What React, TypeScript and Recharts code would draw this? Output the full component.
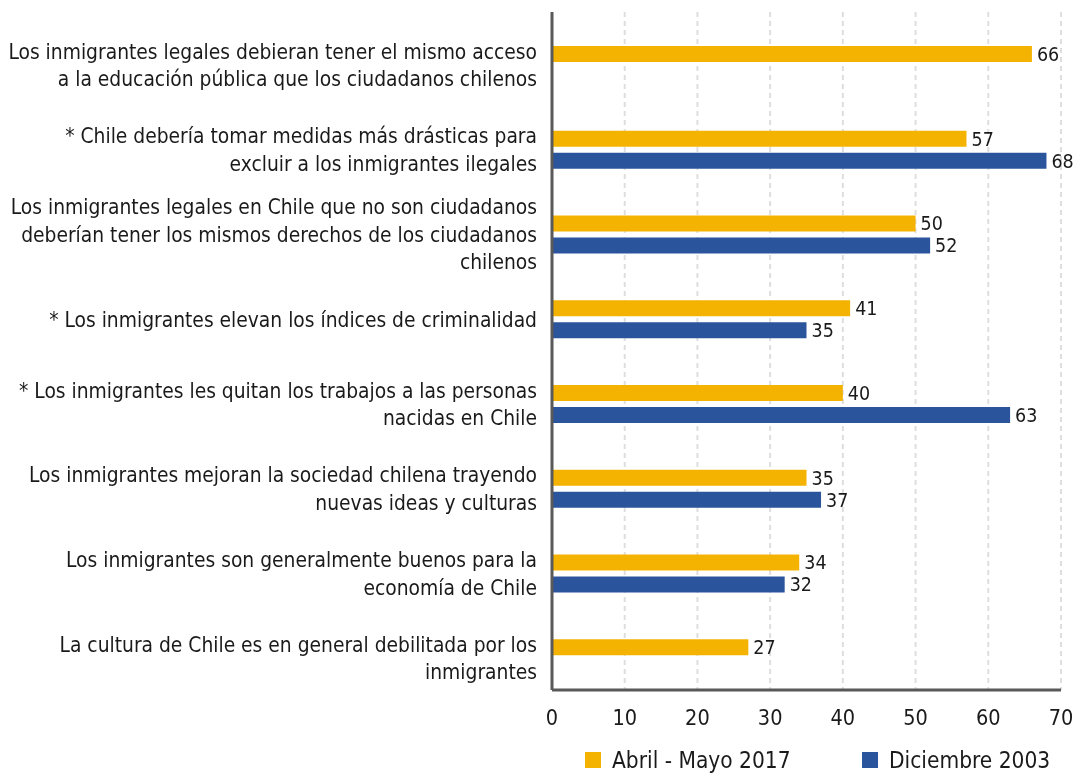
import React from "react";
import { BarChart, Bar, XAxis, YAxis, CartesianGrid, Legend, LabelList } from "recharts";

const categories = [
  "Los inmigrantes legales debieran tener el mismo acceso\na la educación pública que los ciudadanos chilenos",
  "* Chile debería tomar medidas más drásticas para\nexcluir a los inmigrantes ilegales",
  "Los inmigrantes legales en Chile que no son ciudadanos\ndeberían tener los mismos derechos de los ciudadanos\nchilenos",
  "* Los inmigrantes elevan los índices de criminalidad",
  "* Los inmigrantes les quitan los trabajos a las personas\nnacidas en Chile",
  "Los inmigrantes mejoran la sociedad chilena trayendo\nnuevas ideas y culturas",
  "Los inmigrantes son generalmente buenos para la\neconomía de Chile",
  "La cultura de Chile es en general debilitada por los\ninmigrantes",
];
const abrilMayo2017 = [66, 57, 50, 41, 40, 35, 34, 27];
const diciembre2003 = [null, 68, 52, 35, 63, 37, 32, null];
const emptySlot = [null, null, null, null, null, null, null, null];
const xTicks = [0, 10, 20, 30, 40, 50, 60, 70];
const seriesNames = ["Abril - Mayo 2017", "Diciembre 2003"];

const data = categories.map((c, i) => ({
  category: c,
  slot: emptySlot[i],
  a2017: abrilMayo2017[i],
  d2003: diciembre2003[i],
}));

const FONT = '"Liberation Sans Narrow", "DejaVu Sans Condensed", "Roboto Condensed", "Arial Narrow", "Liberation Sans", sans-serif';
const YELLOW = "#F5B301";
const BLUE = "#2A549C";
const TEXT = "#1a1a1a";

const CategoryTick = (props: any) => {
  const { x, y, payload } = props;
  const lines = String(payload.value).split("\n");
  const lh = 27.5;
  const start = -((lines.length - 1) * lh) / 2 + 7;
  return (
    <text x={x} y={y + 11} textAnchor="end" fontFamily={FONT} fontSize={20.8} fill={TEXT}>
      {lines.map((l, i) => (
        <tspan key={i} x={x} dy={i === 0 ? start : lh}>
          {l}
        </tspan>
      ))}
    </text>
  );
};

const renderLegend = (props: any) => {
  const items = (props.payload || []).filter((p: any) => p.type !== "none");
  return (
    <div style={{ display: "flex", fontFamily: FONT, fontSize: 22.5, color: TEXT, lineHeight: "28px" }}>
      {items.map((p: any, i: number) => (
        <div key={i} style={{ display: "flex", alignItems: "center", width: i === 0 ? 277 : "auto" }}>
          <span style={{ width: 16, height: 16, background: p.color, display: "inline-block", marginRight: 11 }} />
          <span>{p.value}</span>
        </div>
      ))}
    </div>
  );
};

export default function App() {
  return (
    <div style={{ position: "fixed", left: 0, top: 0, width: 1075, height: 777, overflow: "hidden" }}>
      <BarChart
        width={1075}
        height={777}
        data={data}
        layout="vertical"
        margin={{ top: 12, right: 14, bottom: 2, left: 0 }}
        barSize={16}
        barGap={6}
      >
        <CartesianGrid horizontal={false} stroke="#dedede" strokeWidth={2} strokeDasharray="5 4" />
        <XAxis
          type="number"
          domain={[0, 70]}
          ticks={xTicks}
          tickLine={false}
          tickSize={0}
          tickMargin={20}
          height={57}
          axisLine={{ stroke: "#595959", strokeWidth: 3 }}
          tick={{ fontFamily: FONT, fontSize: 21.5, fill: TEXT }}
        />
        <YAxis
          type="category"
          dataKey="category"
          width={552}
          tickLine={false}
          tickSize={0}
          tickMargin={15}
          axisLine={{ stroke: "#595959", strokeWidth: 3 }}
          tick={<CategoryTick />}
          interval={0}
        />
        <Legend
          verticalAlign="bottom"
          content={renderLegend}
          wrapperStyle={{ left: 585, top: 746, width: "auto" }}
        />
        <Bar dataKey="slot" legendType="none" fill="transparent" isAnimationActive={false} />
        <Bar dataKey="a2017" name={seriesNames[0]} fill={YELLOW} isAnimationActive={false}>
          <LabelList dataKey="a2017" position="right" offset={5} fill={TEXT} fontFamily={FONT} fontSize={19.5} />
        </Bar>
        <Bar dataKey="d2003" name={seriesNames[1]} fill={BLUE} isAnimationActive={false}>
          <LabelList dataKey="d2003" position="right" offset={5} fill={TEXT} fontFamily={FONT} fontSize={19.5} />
        </Bar>
      </BarChart>
    </div>
  );
}
